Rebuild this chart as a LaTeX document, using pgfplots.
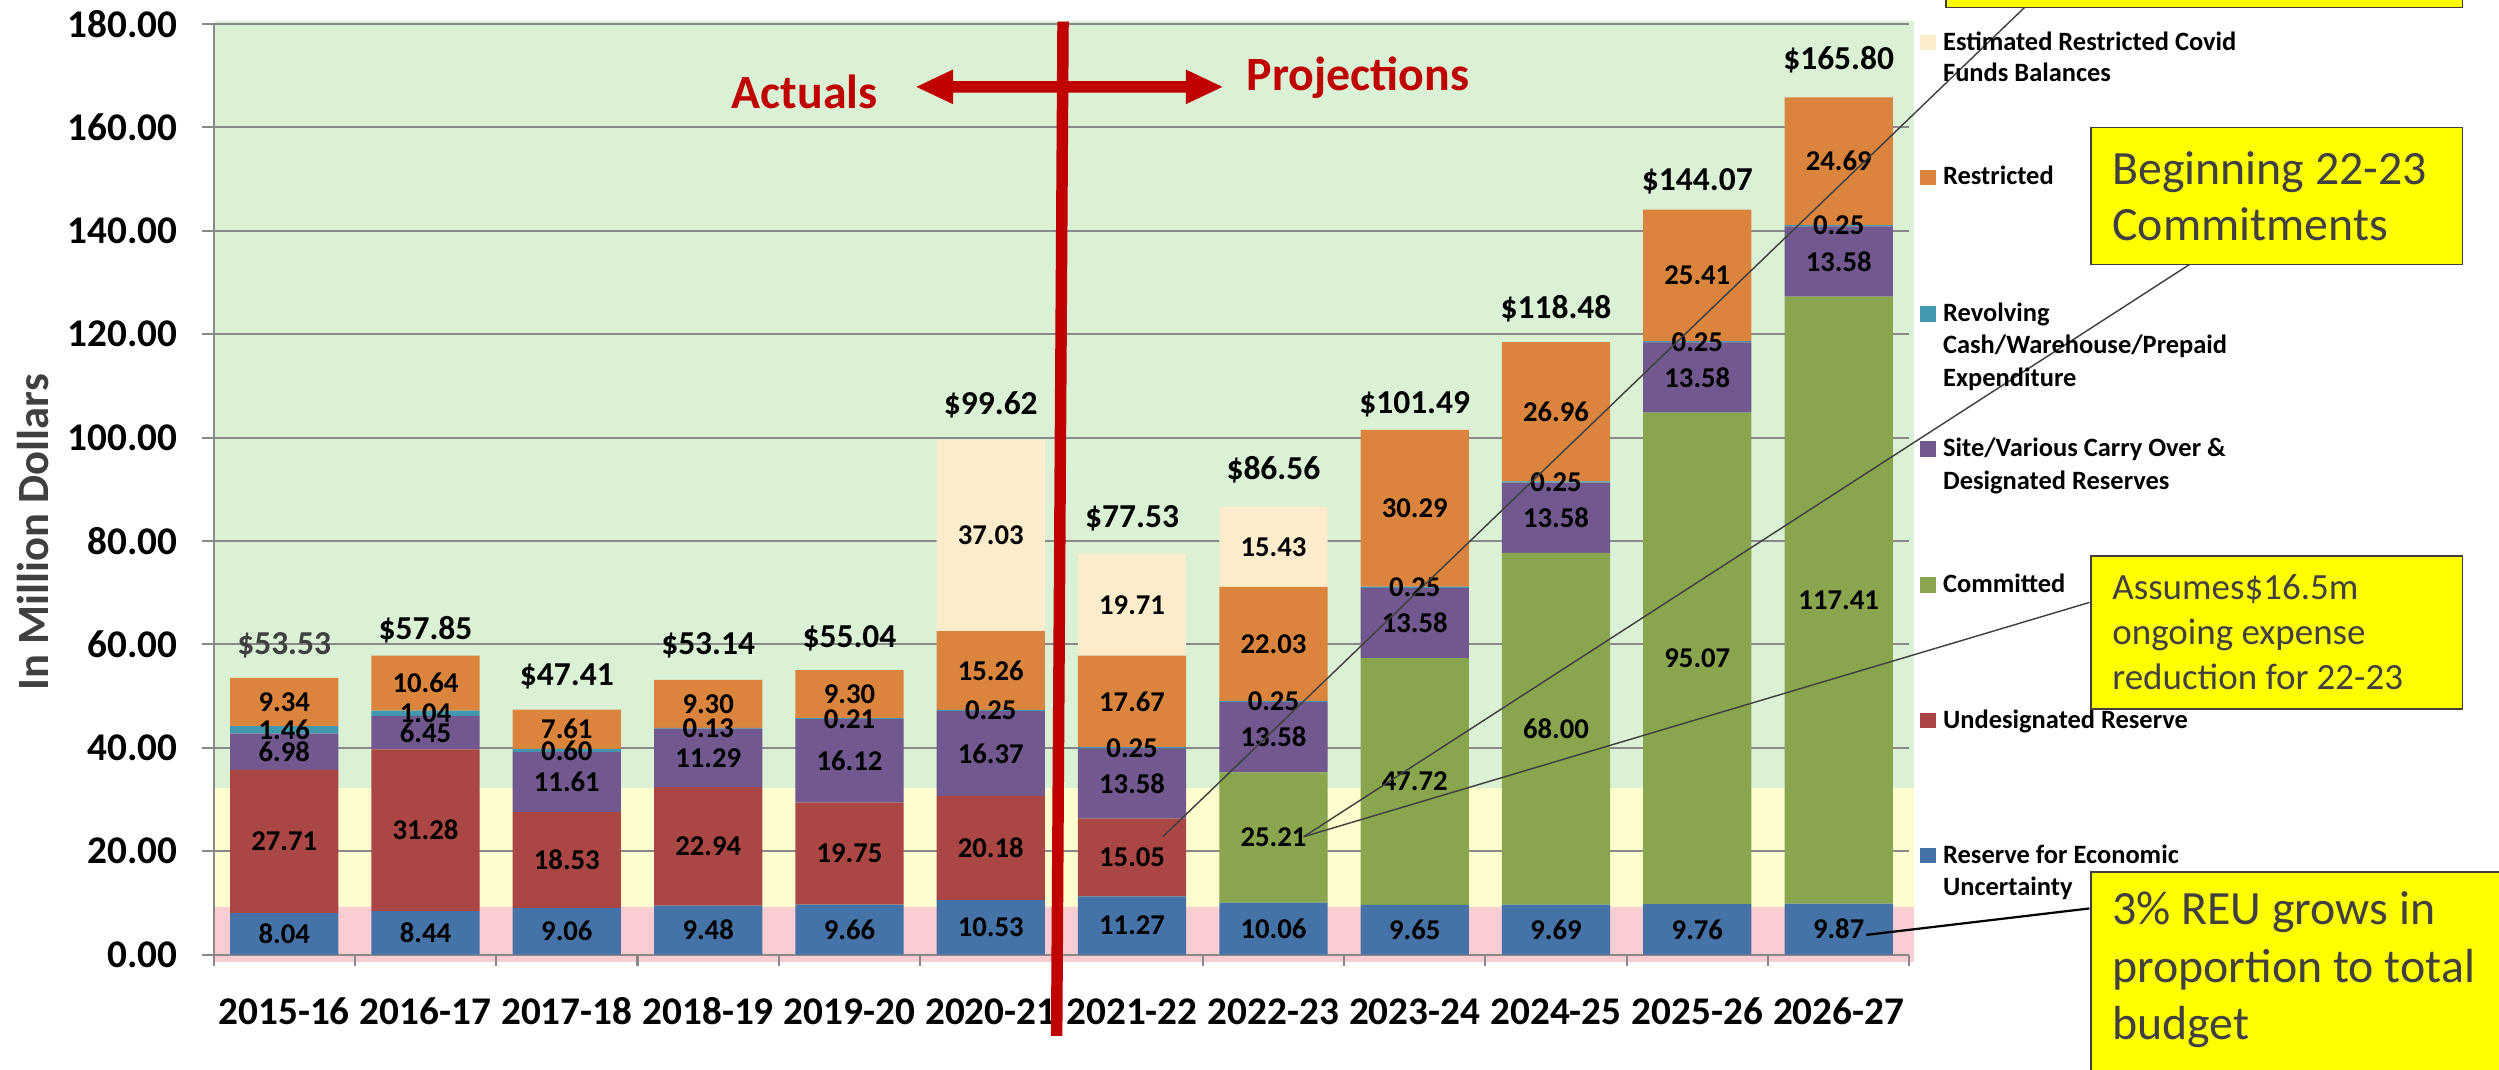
\documentclass[border=0pt]{standalone}
\usepackage{fontspec}
\setmainfont{Carlito}
\usepackage{pgfplots}
\usepackage{pgfplotstable}
\pgfplotsset{compat=1.18}
\definecolor{creu}{HTML}{4572A7}
\definecolor{cund}{HTML}{AA4643}
\definecolor{ccom}{HTML}{89A54E}
\definecolor{csite}{HTML}{71588F}
\definecolor{crev}{HTML}{4198AF}
\definecolor{cres}{HTML}{DB843D}
\definecolor{ccov}{HTML}{FCECCB}
\definecolor{bandpink}{HTML}{FACDD3}
\definecolor{bandyellow}{HTML}{FFFCCD}
\definecolor{bandgreen}{HTML}{DAF1D6}
\definecolor{gridgrey}{HTML}{898989}
\definecolor{darkgrey}{HTML}{404040}
\definecolor{redc}{HTML}{C00000}
\definecolor{boxyellow}{HTML}{FFFF00}
\newcommand{\lblfont}{\fontsize{9}{10}\selectfont\bfseries}
\newcommand{\tickfont}{\fontsize{12.3}{14}\selectfont\bfseries}
\newcommand{\totfont}{\fontsize{10.5}{12}\selectfont\bfseries}
\newcommand{\legfont}{\fontsize{8.3}{10}\selectfont\bfseries}
\pgfplotstableread{
x reu und com site rev res cov
0 8.04 27.71 0 6.98 1.46 9.34 0
1 8.44 31.28 0 6.45 1.04 10.64 0
2 9.06 18.53 0 11.61 0.60 7.61 0
3 9.48 22.94 0 11.29 0.13 9.30 0
4 9.66 19.75 0 16.12 0.21 9.30 0
5 10.53 20.18 0 16.37 0.25 15.26 37.03
6 11.27 15.05 0 13.58 0.25 17.67 19.71
7 10.06 0 25.21 13.58 0.25 22.03 15.43
8 9.65 0 47.72 13.58 0.25 30.29 0
9 9.69 0 68.00 13.58 0.25 26.96 0
10 9.76 0 95.07 13.58 0.25 25.41 0
11 9.87 0 117.41 13.58 0.25 24.69 0
}\datatable
% label positions: middle of each stacked segment
\pgfplotstablecreatecol[create col/expr={\thisrow{reu}/2}]{yreu}\datatable
\pgfplotstablecreatecol[create col/expr={\thisrow{reu}+\thisrow{und}/2}]{yund}\datatable
\pgfplotstablecreatecol[create col/expr={\thisrow{reu}+\thisrow{und}+\thisrow{com}/2}]{ycom}\datatable
\pgfplotstablecreatecol[create col/expr={\thisrow{reu}+\thisrow{und}+\thisrow{com}+\thisrow{site}/2}]{ysite}\datatable
\pgfplotstablecreatecol[create col/expr={\thisrow{reu}+\thisrow{und}+\thisrow{com}+\thisrow{site}+\thisrow{rev}/2}]{yrev}\datatable
\pgfplotstablecreatecol[create col/expr={\thisrow{reu}+\thisrow{und}+\thisrow{com}+\thisrow{site}+\thisrow{rev}+\thisrow{res}/2}]{yres}\datatable
\pgfplotstablecreatecol[create col/expr={\thisrow{reu}+\thisrow{und}+\thisrow{com}+\thisrow{site}+\thisrow{rev}+\thisrow{res}+\thisrow{cov}/2}]{ycov}\datatable
\pgfplotsset{
  chartbox/.style={
    at={(67pt,36pt)}, anchor=south west,
    scale only axis, width=532pt, height=292pt,
    xmin=-0.5, xmax=11.5, ymin=0, ymax=180,
  },
  seglabel/.style={draw=none, mark=none, point meta=explicit symbolic,
    nodes near coords={\ifdim\pgfplotspointmeta pt=0pt\else\pgfplotspointmeta\fi},
    every node near coord/.append style={anchor=center, inner sep=0pt, font=\lblfont, text=black}},
}
\begin{document}
\begin{tikzpicture}
\useasboundingbox (0,0) rectangle (784pt,335.5pt);
\begin{scope}[x=0.5pt, y=-0.5pt, shift={(0pt,335.5pt)}]
\fill[bandpink] (134,603.5) rectangle (1200.7,569.4);
\fill[bandyellow] (134,569.4) rectangle (1200.7,494.5);
\fill[bandgreen] (134,494.5) rectangle (1200.7,13.05);
\end{scope}
\begin{axis}[
  chartbox, clip=false,
  ybar stacked, bar width=0.766,
  axis lines*=left,
  axis line style={draw=gridgrey, line width=0.65pt},
  tick style={draw=gridgrey, line width=0.65pt},
  tick align=outside, major tick length=3.6pt,
  xtick={-0.5,0.5,...,11.5}, x tick label as interval,
  xticklabels={2015-16,2016-17,2017-18,2018-19,2019-20,2020-21,2021-22,2022-23,2023-24,2024-25,2025-26,2026-27},
  ytick={0,20,...,180},
  ymajorgrids, major grid style={draw=gridgrey, line width=0.65pt},
  /pgf/number format/assume math mode=true,
  tick label style={font=\tickfont, text=black},
  yticklabel style={anchor=east, inner sep=0pt, xshift=-7.5pt,
    /pgf/number format/fixed, /pgf/number format/fixed zerofill, /pgf/number format/precision=2},
  xticklabel style={anchor=base, inner sep=0pt, yshift=-18.3pt},
]
\addplot[fill=creu, draw=none] table[x=x,y=reu]{\datatable};
\addplot[fill=cund, draw=none] table[x=x,y=und]{\datatable};
\addplot[fill=ccom, draw=none] table[x=x,y=com]{\datatable};
\addplot[fill=csite, draw=none] table[x=x,y=site]{\datatable};
\addplot[fill=crev, draw=none] table[x=x,y=rev]{\datatable};
\addplot[fill=cres, draw=none] table[x=x,y=res]{\datatable};
\addplot[fill=ccov, draw=none] table[x=x,y=cov]{\datatable};
\end{axis}
\begin{axis}[chartbox, clip=false, hide axis]
\addplot[seglabel] table[x=x,y=yreu,meta=reu]{\datatable};
\addplot[seglabel] table[x=x,y=yund,meta=und]{\datatable};
\addplot[seglabel] table[x=x,y=ycom,meta=com]{\datatable};
\addplot[seglabel] table[x=x,y=ysite,meta=site]{\datatable};
\addplot[seglabel] table[x=x,y=yrev,meta=rev]{\datatable};
\addplot[seglabel] table[x=x,y=yres,meta=res]{\datatable};
\addplot[seglabel] table[x=x,y=ycov,meta=cov]{\datatable};
\node[font=\totfont, text=darkgrey] at (axis cs:0,59.9) {\$53.53};
\node[font=\totfont] at (axis cs:1,62.9) {\$57.85};
\node[font=\totfont] at (axis cs:2,53.8) {\$47.41};
\node[font=\totfont] at (axis cs:3,59.9) {\$53.14};
\node[font=\totfont] at (axis cs:4,61.2) {\$55.04};
\node[font=\totfont] at (axis cs:5,106.3) {\$99.62};
\node[font=\totfont] at (axis cs:6,84.3) {\$77.53};
\node[font=\totfont] at (axis cs:7,93.7) {\$86.56};
\node[font=\totfont] at (axis cs:8,106.5) {\$101.49};
\node[font=\totfont] at (axis cs:9,125) {\$118.48};
\node[font=\totfont] at (axis cs:10,149.5) {\$144.07};
\node[font=\totfont] at (axis cs:11,173) {\$165.80};
\end{axis}
\begin{scope}[x=0.5pt, y=-0.5pt, shift={(0pt,335.5pt)}]
% y label
\node[rotate=90, text=darkgrey, font=\fontsize{14}{16}\selectfont\bfseries] at (21,334) {In Million Dollars};
% red divider and arrows
\draw[redc, line width=3.6pt] (667,13.6) -- (663,650);
\fill[redc] (575,54.5) -- (598,43.6) -- (598,50.85) -- (744,50.85) -- (744,43.6) -- (767,54.5) -- (744,65.4) -- (744,58.15) -- (598,58.15) -- (598,65.4) -- cycle;
\node[anchor=east, text=redc, font=\fontsize{15}{17}\selectfont\bfseries, inner sep=0pt] at (551,57.5) {Actuals};
\node[anchor=west, text=redc, font=\fontsize{15}{17}\selectfont\bfseries, inner sep=0pt] at (782,49) {Projections};
% callout lines
\draw[darkgrey, line width=0.45pt] (729.6,525) -- (1271,4);
\draw[darkgrey, line width=0.45pt] (818,525) -- (1383,160);
\draw[darkgrey, line width=0.45pt] (818,525) -- (1311,378);
\draw[black, line width=0.7pt] (1171,586.6) -- (1311,570);
% legend
\fill[ccov] (1205,21.9) rectangle (1214.5,31.4);
\fill[cres] (1205,106.5) rectangle (1214.5,116);
\fill[crev] (1205,192.3) rectangle (1214.5,201.8);
\fill[csite] (1205,277) rectangle (1214.5,286.5);
\fill[ccom] (1205,362.3) rectangle (1214.5,371.8);
\fill[cund] (1205,447.5) rectangle (1214.5,457);
\fill[creu] (1205,532.1) rectangle (1214.5,541.6);
\node[anchor=base west, inner sep=0pt, font=\legfont] at (1218.8,31.4) {Estimated Restricted Covid};
\node[anchor=base west, inner sep=0pt, font=\legfont] at (1218.8,51.2) {Funds Balances};
\node[anchor=base west, inner sep=0pt, font=\legfont] at (1218.8,116) {Restricted};
\node[anchor=base west, inner sep=0pt, font=\legfont] at (1218.8,201.8) {Revolving};
\node[anchor=base west, inner sep=0pt, font=\legfont] at (1218.8,222) {Cash/Warehouse/Prepaid};
\node[anchor=base west, inner sep=0pt, font=\legfont] at (1218.8,242.2) {Expenditure};
\node[anchor=base west, inner sep=0pt, font=\legfont] at (1218.8,286.5) {Site/Various Carry Over \&};
\node[anchor=base west, inner sep=0pt, font=\legfont] at (1218.8,307.4) {Designated Reserves};
\node[anchor=base west, inner sep=0pt, font=\legfont] at (1218.8,371.8) {Committed};
\node[anchor=base west, inner sep=0pt, font=\legfont] at (1218.8,457) {Undesignated Reserve};
\node[anchor=base west, inner sep=0pt, font=\legfont] at (1218.8,541.6) {Reserve for Economic};
\node[anchor=base west, inner sep=0pt, font=\legfont] at (1218.8,561.9) {Uncertainty};
% yellow boxes
\filldraw[fill=boxyellow, draw=darkgrey, line width=0.5pt] (1221,-30) rectangle (1545,4.6);
\filldraw[fill=boxyellow, draw=darkgrey, line width=0.5pt] (1312,80) rectangle (1545,166);
\filldraw[fill=boxyellow, draw=darkgrey, line width=0.5pt] (1312,349) rectangle (1545,445);
\filldraw[fill=boxyellow, draw=darkgrey, line width=0.5pt] (1312,547) rectangle (1600,700);
\node[anchor=base west, inner sep=0pt, text=darkgrey, font=\fontsize{15}{18}\selectfont] at (1325,115.6) {Beginning 22-23};
\node[anchor=base west, inner sep=0pt, text=darkgrey, font=\fontsize{15}{18}\selectfont] at (1325,151) {Commitments};
\node[anchor=base west, inner sep=0pt, text=darkgrey, font=\fontsize{11.6}{14}\selectfont] at (1325,376.4) {Assumes\$16.5m};
\node[anchor=base west, inner sep=0pt, text=darkgrey, font=\fontsize{11.6}{14}\selectfont] at (1325,404.6) {ongoing expense};
\node[anchor=base west, inner sep=0pt, text=darkgrey, font=\fontsize{11.6}{14}\selectfont] at (1325,432.5) {reduction for 22-23};
\node[anchor=base west, inner sep=0pt, text=darkgrey, font=\fontsize{15}{18}\selectfont] at (1325,580.3) {3\% REU grows in};
\node[anchor=base west, inner sep=0pt, text=darkgrey, font=\fontsize{15}{18}\selectfont] at (1325,616.5) {proportion to total};
\node[anchor=base west, inner sep=0pt, text=darkgrey, font=\fontsize{15}{18}\selectfont] at (1325,652.4) {budget};
\end{scope}
\end{tikzpicture}
\end{document}
